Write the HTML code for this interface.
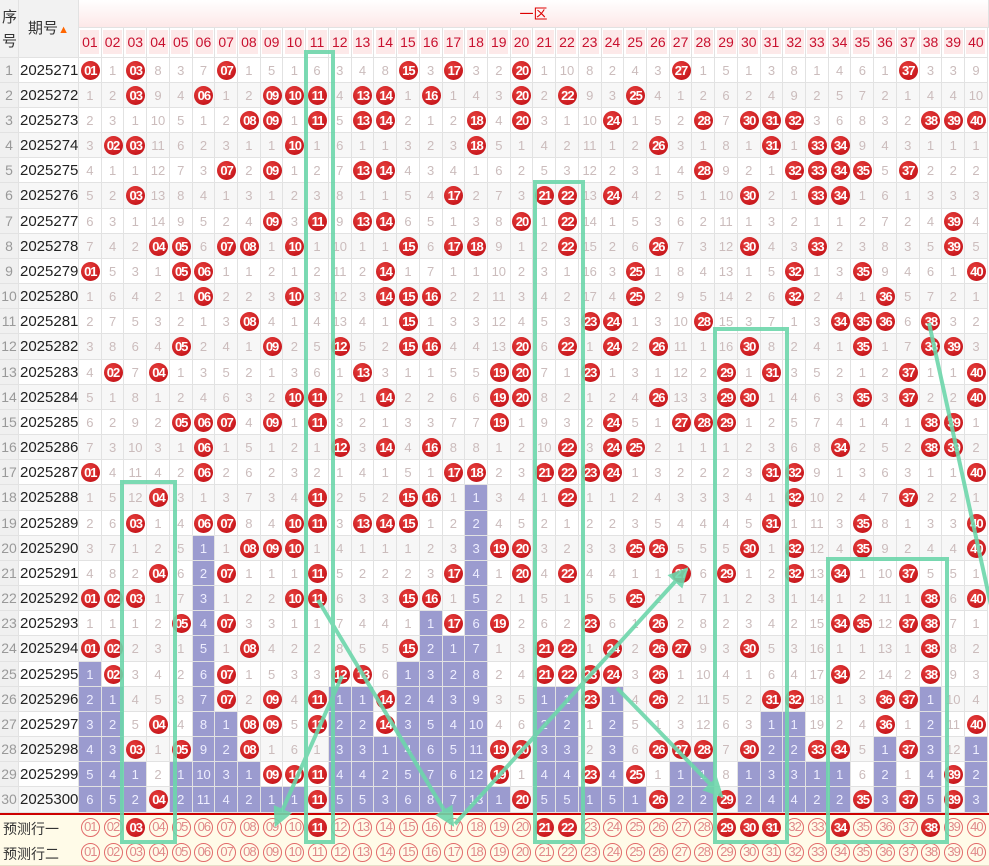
<!DOCTYPE html>
<html><head><meta charset="utf-8">
<style>
body{margin:0;width:989px;height:865px;overflow:hidden;background:#fff;font-family:"Liberation Sans","Noto Sans CJK SC",sans-serif;position:relative}
.c{position:absolute;box-sizing:border-box;border-right:1px solid #e2e2e2;border-bottom:1px solid #e2e2e2;text-align:center;font-size:13px;color:#cbbcbc}
.b{position:absolute;width:19px;height:19px;border-radius:50%;background:radial-gradient(circle at 40% 35%,#e8423f,#c9181d 70%,#b01015);color:#fff;font-weight:bold;font-size:13px;text-align:center;line-height:19px;letter-spacing:-1px}
.h{position:absolute;width:19px;height:19px;border-radius:50%;box-sizing:border-box;border:1.5px solid #e26a6a;color:#e08a8a;font-size:13px;text-align:center;line-height:16px;letter-spacing:-1px}
</style></head><body>
<div id="g"></div>
<svg style="position:absolute;left:0;top:0" width="989" height="865">
<defs><marker id="a" markerWidth="5" markerHeight="5" refX="3" refY="2.5" orient="auto"><path d="M0,0L5,2.5L0,5z" fill="#6dd6ab"/></marker></defs>
<g fill="none" stroke="#6dd6ab" stroke-width="4" opacity="0.9">
<rect x="306" y="52" width="27" height="790"/>
<rect x="122" y="482" width="53" height="360"/>
<rect x="535" y="182" width="48" height="660"/>
<rect x="715" y="329" width="72" height="513"/>
<rect x="828" y="559" width="119" height="283"/>
<line x1="318" y1="600" x2="450" y2="820" marker-end="url(#a)"/>
<line x1="342" y1="676" x2="278" y2="820" marker-end="url(#a)"/>
<line x1="455" y1="824" x2="683" y2="573" marker-end="url(#a)"/>
<line x1="617" y1="688" x2="718" y2="792" marker-end="url(#a)"/>
<line x1="929" y1="323" x2="992" y2="610"/>
</g></svg>
<script>
var W=22.72,X0=79,H=25.17,Y0=57.5;
var hits=[[1,3,7,15,17,20,27,37],[3,6,9,10,11,13,14,16,20,22,25],[8,9,11,13,14,18,20,24,28,30,31,32,38,39,40],[2,3,10,18,26,31,33,34],[7,9,13,14,28,32,33,34,35,37],[3,17,21,22,24,30,33,34],[9,11,13,14,20,22,39],[4,5,7,8,10,15,17,18,22,26,30,33,39],[1,5,6,14,25,32,35,40],[6,10,14,15,16,25,32,36],[8,15,23,24,28,34,35,36,38],[5,9,12,15,16,20,22,24,26,30,35,38,39],[2,4,13,19,20,23,29,31,37,40],[10,11,14,19,20,26,29,30,35,37,40],[5,6,7,9,11,19,24,27,28,29,38,39],[6,12,14,16,22,24,25,34,38,39],[1,6,17,18,21,22,23,24,31,32,40],[4,11,15,16,22,32,37],[3,6,7,10,11,13,14,15,31,35,40],[8,9,10,19,20,25,26,30,32,35,40],[4,7,11,17,20,22,27,29,32,34,37],[1,2,3,10,11,15,16,25,38,40],[5,7,17,19,23,26,34,35,37,38],[1,2,8,15,21,22,24,26,27,30,38],[2,7,12,13,21,22,23,24,26,34,38],[7,9,11,14,23,26,31,32,36,37],[4,8,9,11,14,36,40],[3,5,8,19,20,26,27,28,30,33,34,37],[9,10,11,19,23,25,39],[4,11,20,26,29,35,37,39]];
var r1=[0,1,0,8,3,7,0,1,5,1,6,3,4,8,0,3,0,3,2,0,1,10,8,2,4,3,0,1,5,1,3,8,1,4,6,1,0,3,3,9];
var last=[];for(var c=1;c<=40;c++){last[c]=0;for(var r=0;r<30;r++)if(hits[r].indexOf(c)>=0)last[c]=r;}
var s='';
function cell(x,y,w,h,bg,txt,cls,st){s+='<div class="c '+(cls||'')+'" style="left:'+x+'px;top:'+y+'px;width:'+w+'px;height:'+h+'px;line-height:'+h+'px;'+(bg?'background:'+bg+';':'')+(st||'')+'">'+txt+'</div>';}
cell(0,0,19,57.5,'#f2f2f2','');
s+='<div style="position:absolute;left:2px;top:6px;font-size:15px;color:#333;line-height:24px">序<br>号</div>';
cell(19,0,60,57.5,'#f2f2f2','<span style="color:#333;font-size:15px">期号</span><span style="color:#f60;font-size:11px">▲</span>');
cell(79,0,910,28,'linear-gradient(#fff,#fde8e8)','<span style="color:#d00;font-size:14px">一区</span>');
for(var c=1;c<=40;c++){var x=X0+(c-1)*W;cell(x,28,W,29.5,'#fff','<span style="display:inline-block;background:#fde9e9;width:19px;line-height:24px;color:#c8102e;font-size:14px">'+(c<10?'0':'')+c+'</span>');}
var miss=r1.slice();
for(var r=0;r<30;r++){var y=Y0+r*H,bg=r%2?'#f7f7f7':'#fff';
cell(0,y,19,H,'#f0f0f0',r+1,'','color:#999;font-size:14px');
cell(19,y,60,H,bg,String(2025271+r),'','color:#222;font-size:15px;text-align:left;padding-left:1px');
for(var c=1;c<=40;c++){var x=X0+(c-1)*W;var hit=hits[r].indexOf(c)>=0;
if(r>0){miss[c-1]=hit?0:miss[c-1]+1;}
if(hit){cell(x,y,W,H,bg,'');s+='<div class="b" style="left:'+(x+1.8)+'px;top:'+(y+3)+'px">'+(c<10?'0':'')+c+'</div>';}
else{var pur=r>last[c];cell(x,y,W,H,pur?'#9b9bcf':bg,miss[c-1],'',pur?'color:#eef':'');}
}}
var pr=[3,11,21,22,29,30,31,34,38];
for(var k=0;k<2;k++){var y=815+k*25;s+='<div style="position:absolute;left:0;top:'+y+'px;width:989px;height:25px;background:#fffbe8;border-bottom:1px solid #e6e0c8"></div>';
s+='<div style="position:absolute;left:3px;top:'+(y+4)+'px;font-size:14px;color:#333">预测行'+(k?'二':'一')+'</div>';
for(var c=1;c<=40;c++){var x=X0+(c-1)*W;var n=(c<10?'0':'')+c;
if(k==0&&pr.indexOf(c)>=0)s+='<div class="b" style="left:'+(x+1.8)+'px;top:'+(y+3)+'px">'+n+'</div>';
else s+='<div class="h" style="left:'+(x+1.8)+'px;top:'+(y+3)+'px">'+n+'</div>';}}
s+='<div style="position:absolute;left:0;top:813px;width:989px;height:2px;background:#c00"></div>';
document.getElementById('g').innerHTML=s;
</script>
</body></html>
